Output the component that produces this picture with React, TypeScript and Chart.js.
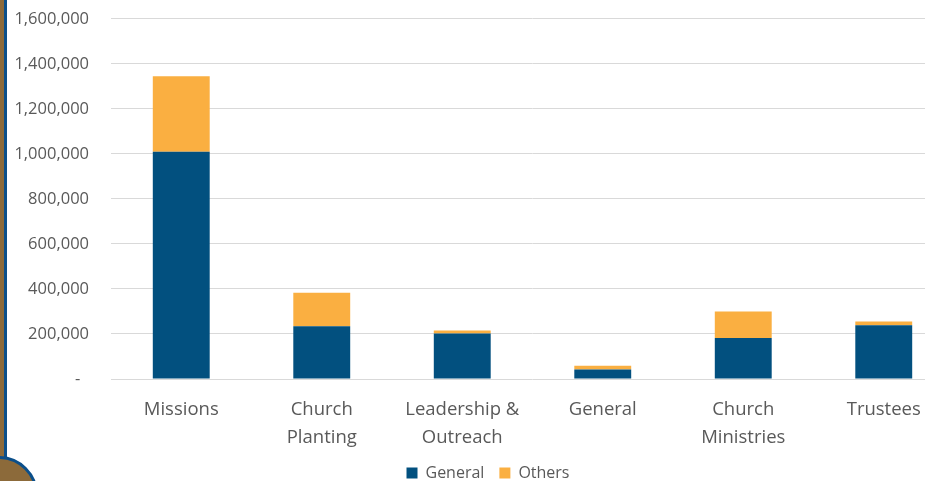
import React, { useEffect, useRef } from "react";
import { Chart, registerables } from "chart.js";

Chart.register(...registerables);

const categories: (string | string[])[] = [
  "Missions",
  ["Church", "Planting"],
  ["Leadership &", "Outreach"],
  "General",
  ["Church", "Ministries"],
  "Trustees",
];
const generalValues = [1010000, 234000, 202000, 42000, 182000, 239000];
const othersValues = [335000, 149000, 14000, 17000, 118000, 17000];
const yTicks = [0, 200000, 400000, 600000, 800000, 1000000, 1200000, 1400000, 1600000];

const FONT = "'Open Sans', 'DejaVu Sans', sans-serif";
const TEXT = "#595959";

const legendShift = {
  id: "legendShift",
  afterLayout(chart: any) {
    const l = chart.legend;
    if (l) {
      l.left += 11;
      l.right += 11;
    }
  },
};

export default function App() {
  const ref = useRef<HTMLCanvasElement | null>(null);
  useEffect(() => {
    if (!ref.current) return;
    const chart = new Chart(ref.current, {
      type: "bar",
      data: {
        labels: categories as any,
        datasets: [
          { label: "General", data: generalValues, backgroundColor: "#02507F", borderWidth: 0 },
          { label: "Others", data: othersValues, backgroundColor: "#FAAF41", borderWidth: 0 },
        ],
      },
      plugins: [legendShift],
      options: {
        animation: false,
        responsive: false,
        maintainAspectRatio: false,
        layout: { padding: { top: 4, left: 0, right: 0, bottom: 0 } },
        datasets: { bar: { barPercentage: 0.405, categoryPercentage: 1 } },
        plugins: {
          legend: {
            position: "bottom",
            labels: {
              font: { family: FONT, size: 16 },
              color: TEXT,
              boxWidth: 11,
              boxHeight: 11,
              padding: 15,
            },
          },
          tooltip: { enabled: false },
        },
        scales: {
          x: {
            stacked: true,
            grid: { display: false, drawTicks: false },
            border: { display: false },
            ticks: {
              font: { family: FONT, size: 18.5, lineHeight: 1.5 },
              color: TEXT,
              padding: 17,
              maxRotation: 0,
              autoSkip: false,
            },
            afterFit: (s: any) => {
              s.height = 71;
            },
          },
          y: {
            stacked: true,
            min: 0,
            max: 1600000,
            grid: { color: "#d9d9d9", lineWidth: 1, drawTicks: false },
            border: { display: false },
            afterBuildTicks: (s: any) => {
              s.ticks = yTicks.map((v) => ({ value: v }));
            },
            ticks: {
              font: { family: FONT, size: 16.5 },
              color: TEXT,
              padding: 22,
              callback: (v: any) => (Number(v) === 0 ? "-  " : Number(v).toLocaleString("en-US")),
            },
            afterFit: (s: any) => {
              s.width = 111;
            },
          },
        },
      },
    });
    return () => chart.destroy();
  }, []);

  return (
    <div style={{ position: "fixed", left: 0, top: 0, width: 925, height: 481, overflow: "hidden", background: "#fff" }}>
      <canvas ref={ref} width={954} height={504} style={{ position: "absolute", left: 0, top: -13, width: 954, height: 504 }} />
      <div style={{ position: "absolute", left: 0, top: 0, width: 4, height: 481, background: "#8C6A3A" }} />
      <div style={{ position: "absolute", left: 4, top: 0, width: 3, height: 481, background: "#0B4F8A" }} />
      <div
        style={{
          position: "absolute",
          left: -40,
          top: 456,
          width: 72,
          height: 72,
          borderRadius: "50%",
          background: "#8C6A3A",
          border: "3px solid #0B4F8A",
        }}
      />
    </div>
  );
}
